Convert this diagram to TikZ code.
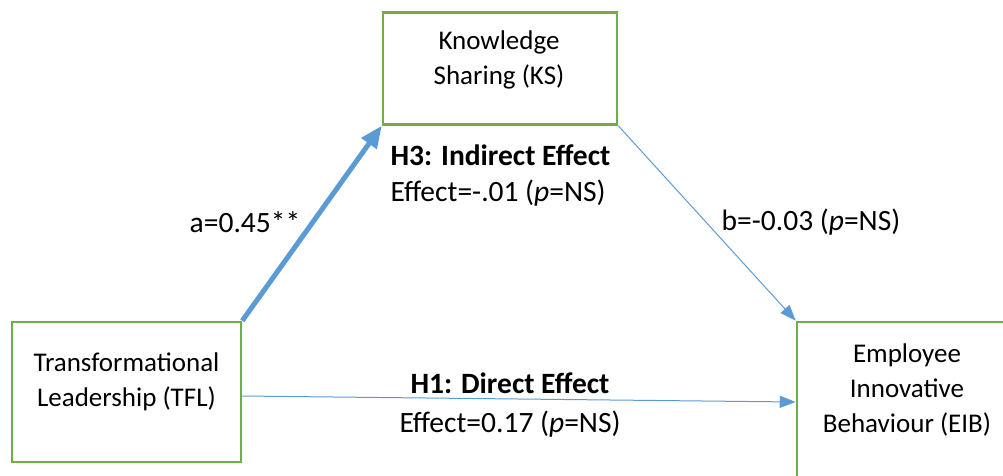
\documentclass[tikz,border=0pt]{standalone}
\usepackage{fontspec}
\setmainfont{Carlito}
\usepackage{tikz}
\usetikzlibrary{arrows.meta}
\definecolor{boxgreen}{RGB}{112,173,71}
\definecolor{arrowblue}{RGB}{91,155,213}
\tikzstyle{var} = [draw=boxgreen, line width=2.5pt, inner sep=0pt]
\tikzstyle{txt} = [align=center, font={\fontsize{27}{35}\selectfont}]
\tikzstyle{lbl} = [txt, font={\fontsize{29.5}{36}\selectfont}]
\tikzstyle{path} = [draw=arrowblue, line width=1pt, -{Triangle[length=16pt,width=12pt]}]
\tikzstyle{strong} = [path, line width=5pt, -{Triangle[length=22pt,width=18pt]}]

\begin{document}
\begin{tikzpicture}[x=1pt,y=-1pt]
        \useasboundingbox (0,0) rectangle (1003,475);
        \node[var,minimum width=234pt,minimum height=112pt](ks) at (500,68.5){};
        \node[var,minimum width=229pt,minimum height=140pt](tfl) at (126.5,392){};
        \node[var,minimum width=230pt,minimum height=160pt](eib) at (912,402){};
        \node[txt](kstext) at (499,59.5){Knowledge\\Sharing (KS)};
        \node[txt](tfltext) at (126.5,382){Transformational\\Leadership (TFL)};
        \node[txt](eibtext) at (907,390){Employee\\Innovative\\Behaviour (EIB)};
        \draw[strong](tfl.north east)--(ks.south west);
        \draw[path](ks.south east)--(eib.north west);
        \draw[path](tfl.east)++(0,4)--(eib.west);
        \node[lbl,align=left,anchor=west](h3) at (387,175.5){\textbf{H3: Indirect Effect}\\Effect=-.01 (\textit{p}=NS)};
        \node[lbl](alabel) at (245,222){a=0.45**};
        \node[lbl](blabel) at (811,222){b=-0.03 (\textit{p}=NS)};
        \node[lbl](h1) at (510,405.5){\textbf{H1: Direct Effect}\\[3pt]Effect=0.17 (\textit{p}=NS)};
      \end{tikzpicture}
\end{document}
